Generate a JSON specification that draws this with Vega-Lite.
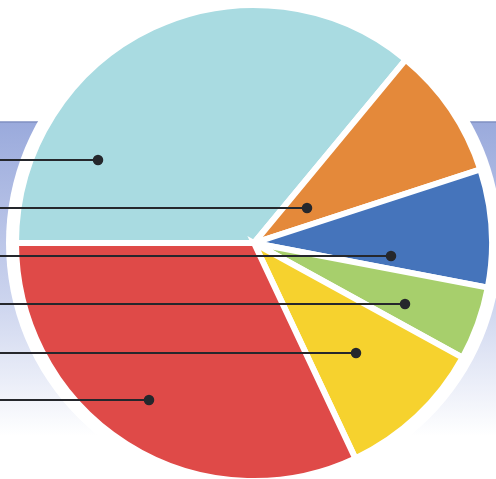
{
  "$schema": "https://vega.github.io/schema/vega-lite/v6.json",
  "autosize": {"type": "none"},
  "width": 496,
  "height": 479,
  "padding": 0,
  "background": "#ffffff",
  "config": {"view": {"stroke": null}},
  "datasets": {
    "slices": [
      {"segment": "A", "share": 36, "order": 1},
      {"segment": "B", "share": 9, "order": 2},
      {"segment": "C", "share": 8, "order": 3},
      {"segment": "D", "share": 5, "order": 4},
      {"segment": "E", "share": 10, "order": 5},
      {"segment": "F", "share": 32, "order": 6}
    ],
    "pointers": [
      {"segment": "A", "from": 0, "px": 98, "py": 160},
      {"segment": "B", "from": 0, "px": 307, "py": 208},
      {"segment": "C", "from": 0, "px": 391, "py": 256},
      {"segment": "D", "from": 0, "px": 405, "py": 304},
      {"segment": "E", "from": 0, "px": 356, "py": 353},
      {"segment": "F", "from": 0, "px": 149, "py": 400}
    ],
    "band": [{"left": 0, "right": 496, "top": 122, "bottom": 479, "cx": 254, "cy": 243}]
  },
  "layer": [
    {
      "data": {"name": "band"},
      "mark": {
        "type": "rect",
        "fill": {
          "gradient": "linear", "x1": 0, "y1": 0, "x2": 0, "y2": 1,
          "stops": [
            {"offset": 0, "color": "#9aaadc"},
            {"offset": 0.5, "color": "#ccd4ee"},
            {"offset": 0.88, "color": "#ffffff"},
            {"offset": 1, "color": "#ffffff"}
          ]
        }
      },
      "encoding": {
        "x": {"field": "left", "type": "quantitative", "scale": {"domain": [0, 496], "nice": false, "zero": false}, "axis": null},
        "x2": {"field": "right"},
        "y": {"field": "top", "type": "quantitative", "scale": {"domain": [0, 479], "nice": false, "zero": false, "reverse": true}, "axis": null},
        "y2": {"field": "bottom"}
      }
    },
    {
      "data": {"name": "band"},
      "mark": {"type": "rule", "color": "#7f8fc2", "strokeWidth": 1.5},
      "encoding": {
        "x": {"field": "left", "type": "quantitative"},
        "x2": {"field": "right"},
        "y": {"field": "top", "type": "quantitative"}
      }
    },
    {
      "data": {"name": "band"},
      "mark": {"type": "arc", "radius": 248, "fill": "#ffffff", "theta": 0, "theta2": 6.2832},
      "encoding": {
        "x": {"field": "cx", "type": "quantitative"},
        "y": {"field": "cy", "type": "quantitative"}
      }
    },
    {
      "data": {"name": "slices"},
      "mark": {"type": "arc", "radius": 238, "stroke": "#ffffff", "strokeWidth": 6},
      "encoding": {
        "theta": {"field": "share", "type": "quantitative", "stack": true, "scale": {"range": [4.712389, 10.995574]}},
        "order": {"field": "order", "type": "quantitative"},
        "color": {
          "field": "segment", "type": "nominal", "legend": null,
          "scale": {
            "domain": ["A", "B", "C", "D", "E", "F"],
            "range": ["#a9dbe1", "#e4893a", "#4574bb", "#a7cf6c", "#f6d22e", "#df4a48"]
          }
        },
        "x": {"datum": 254, "type": "quantitative"},
        "y": {"datum": 243, "type": "quantitative"}
      }
    },
    {
      "data": {"name": "pointers"},
      "mark": {"type": "rule", "color": "#25272c", "strokeWidth": 2},
      "encoding": {
        "x": {"field": "from", "type": "quantitative"},
        "x2": {"field": "px"},
        "y": {"field": "py", "type": "quantitative"}
      }
    },
    {
      "data": {"name": "pointers"},
      "mark": {"type": "circle", "size": 110, "color": "#25272c", "opacity": 1},
      "encoding": {
        "x": {"field": "px", "type": "quantitative"},
        "y": {"field": "py", "type": "quantitative"}
      }
    }
  ]
}
